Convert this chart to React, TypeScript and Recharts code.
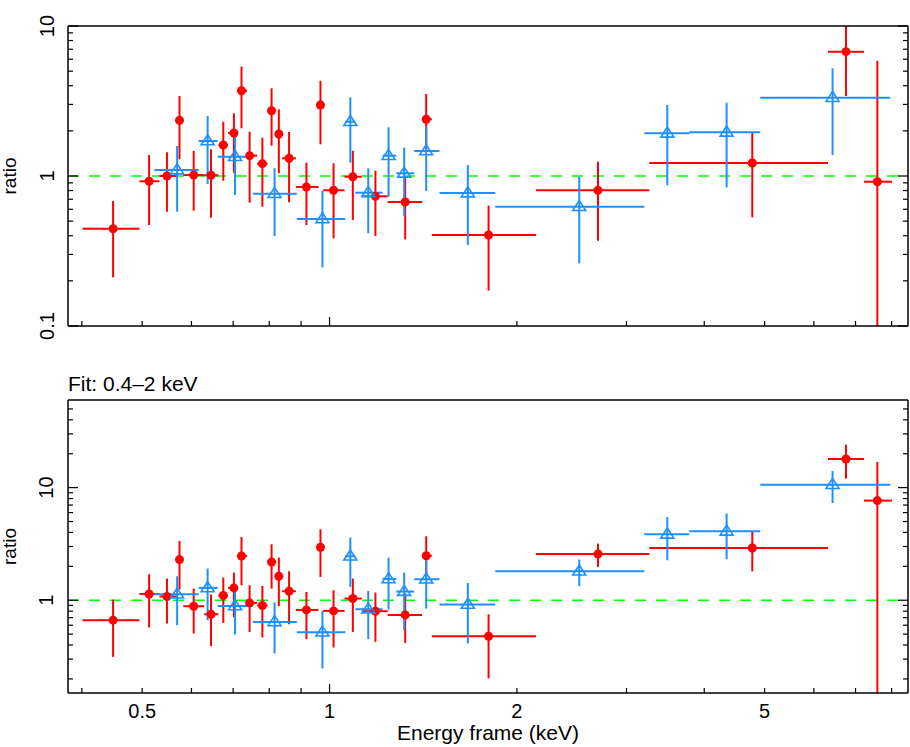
import { ScatterChart, Scatter, XAxis, YAxis, ErrorBar, ReferenceLine } from "recharts";

const FONT = "'Liberation Sans', Arial, Helvetica, sans-serif";
const RED = "#ff0000";
const BLUE = "#1e8fff";
const GREEN = "#00ff00";
const INK = "#000000";

// red data set: bin centre, bin edges (keV)
const RED_E = [0.449, 0.513, 0.548, 0.574, 0.605, 0.645, 0.675, 0.702, 0.722, 0.744, 0.78, 0.807, 0.829, 0.861, 0.918, 0.967, 1.015, 1.09, 1.185, 1.323, 1.43, 1.801, 2.7, 4.778, 6.757, 7.589];
const RED_E_LO = [0.401, 0.495, 0.533, 0.568, 0.582, 0.629, 0.663, 0.687, 0.71, 0.737, 0.765, 0.795, 0.821, 0.839, 0.883, 0.96, 0.976, 1.057, 1.127, 1.24, 1.408, 1.46, 2.146, 3.264, 6.323, 7.223];
const RED_E_HI = [0.495, 0.533, 0.568, 0.582, 0.629, 0.663, 0.687, 0.71, 0.737, 0.765, 0.795, 0.821, 0.839, 0.883, 0.96, 0.976, 1.057, 1.127, 1.24, 1.408, 1.46, 2.146, 3.264, 6.323, 7.223, 8.013];

// red ratio, upper panel
const RED_TOP = [0.445, 0.922, 1.0, 2.351, 1.015, 1.011, 1.609, 1.935, 3.704, 1.366, 1.208, 2.725, 1.905, 1.312, 0.845, 2.974, 0.803, 0.989, 0.732, 0.671, 2.388, 0.404, 0.803, 1.221, 6.741, 0.916];
const RED_TOP_LO = [0.211, 0.471, 0.578, 1.292, 0.587, 0.527, 0.93, 1.05, 2.08, 0.664, 0.624, 1.592, 1.042, 0.668, 0.471, 1.627, 0.384, 0.509, 0.398, 0.378, 1.45, 0.172, 0.37, 0.53, 3.414, 0.01];
const RED_TOP_HI = [0.681, 1.38, 1.439, 3.414, 1.468, 1.507, 2.301, 2.618, 5.354, 1.974, 1.8, 3.843, 2.784, 1.965, 1.227, 4.318, 1.215, 1.475, 1.085, 0.965, 3.522, 0.634, 1.245, 1.944, 12, 5.87];

// red ratio, lower panel (fit 0.4-2 keV)
const RED_BOT = [0.665, 1.137, 1.079, 2.297, 0.885, 0.751, 1.101, 1.286, 2.472, 0.946, 0.897, 2.187, 1.633, 1.202, 0.82, 2.953, 0.804, 1.035, 0.799, 0.741, 2.483, 0.479, 2.576, 2.911, 17.94, 7.668];
const RED_BOT_LO = [0.314, 0.573, 0.621, 1.244, 0.506, 0.391, 0.629, 0.707, 1.359, 0.523, 0.467, 1.27, 0.885, 0.612, 0.451, 1.609, 0.38, 0.523, 0.427, 0.418, 1.609, 0.202, 1.975, 1.808, 12.02, 0.01];
const RED_BOT_HI = [1.014, 1.701, 1.558, 3.358, 1.27, 1.124, 1.59, 1.761, 3.645, 1.359, 1.339, 3.14, 2.393, 1.808, 1.185, 4.266, 1.227, 1.558, 1.17, 1.147, 3.698, 0.751, 3.185, 4.037, 24.07, 16.87];

// blue data set
const BLUE_E = [0.569, 0.637, 0.705, 0.816, 0.974, 1.08, 1.154, 1.244, 1.318, 1.43, 1.668, 2.519, 3.489, 4.345, 6.43];
const BLUE_E_LO = [0.523, 0.616, 0.661, 0.753, 0.886, 1.06, 1.1, 1.217, 1.28, 1.368, 1.502, 1.846, 3.204, 3.785, 4.921];
const BLUE_E_HI = [0.616, 0.661, 0.753, 0.886, 1.06, 1.1, 1.217, 1.28, 1.368, 1.502, 1.846, 3.204, 3.785, 4.921, 7.962];

const BLUE_TOP = [1.096, 1.711, 1.345, 0.762, 0.517, 2.301, 0.774, 1.366, 1.042, 1.468, 0.77, 0.624, 1.926, 1.956, 3.327];
const BLUE_TOP_LO = [0.578, 0.885, 0.747, 0.398, 0.246, 1.227, 0.415, 0.728, 0.541, 0.794, 0.347, 0.262, 0.867, 0.841, 1.38];
const BLUE_TOP_HI = [1.585, 2.512, 1.926, 1.126, 0.794, 3.347, 1.126, 2.112, 1.544, 2.132, 1.184, 0.989, 2.974, 3.081, 5.224];

const BLUE_BOT = [1.13, 1.286, 0.89, 0.642, 0.52, 2.457, 0.832, 1.545, 1.194, 1.536, 0.916, 1.808, 3.852, 4.094, 10.63];
const BLUE_BOT_LO = [0.6, 0.665, 0.496, 0.337, 0.248, 1.312, 0.451, 0.827, 0.542, 0.844, 0.413, 1.331, 2.264, 2.311, 7.3];
const BLUE_BOT_HI = [1.633, 1.911, 1.312, 0.954, 0.804, 3.6, 1.209, 2.393, 1.761, 2.264, 1.424, 2.297, 5.484, 5.88, 14.04];

// axes
const X_DOMAIN = [0.38, 8.5];
const X_TICKS = [0.4, 0.5, 0.6, 0.7, 0.8, 0.9, 1, 2, 3, 4, 5, 6, 7, 8];
const X_LABELS = [0.5, 1, 2, 5];
const TOP_DOMAIN = [0.1, 10];
const TOP_TICKS = [0.1, 0.2, 0.3, 0.4, 0.5, 0.6, 0.7, 0.8, 0.9, 1, 2, 3, 4, 5, 6, 7, 8, 9, 10];
const TOP_LABELS = [0.1, 1, 10];
const BOT_DOMAIN = [0.15, 60];
const BOT_TICKS = [0.2, 0.3, 0.4, 0.5, 0.6, 0.7, 0.8, 0.9, 1, 2, 3, 4, 5, 6, 7, 8, 9, 10, 20, 30, 40, 50];
const BOT_LABELS = [1, 10];
const DECADES = [0.1, 1, 10];

// error bars that run off the panel are cut at the axis range
function rows(e: number[], lo: number[], hi: number[], y: number[], ylo: number[], yhi: number[], range: number[]) {
  return e.map((x, i) => {
    const bottom = Math.max(ylo[i], range[0]);
    const top = Math.min(yhi[i], range[1]);
    return {
      x,
      y: y[i],
      ex: [x - lo[i], hi[i] - x],
      ey: [y[i] - bottom, top - y[i]],
    };
  });
}

const redTop = rows(RED_E, RED_E_LO, RED_E_HI, RED_TOP, RED_TOP_LO, RED_TOP_HI, TOP_DOMAIN);
const blueTop = rows(BLUE_E, BLUE_E_LO, BLUE_E_HI, BLUE_TOP, BLUE_TOP_LO, BLUE_TOP_HI, TOP_DOMAIN);
const redBot = rows(RED_E, RED_E_LO, RED_E_HI, RED_BOT, RED_BOT_LO, RED_BOT_HI, BOT_DOMAIN);
const blueBot = rows(BLUE_E, BLUE_E_LO, BLUE_E_HI, BLUE_BOT, BLUE_BOT_LO, BLUE_BOT_HI, BOT_DOMAIN);

// inward ticks, drawn from the axis line into the plot box
const xTick = (side: "top" | "bottom", labels: number[]) => (p: any) => {
  const v = p.payload.value;
  const len = DECADES.includes(v) ? 9 : 5;
  const dir = side === "bottom" ? -1 : 1;
  return (
    <g>
      <line x1={p.x} x2={p.x} y1={p.y} y2={p.y + dir * len} stroke={INK} strokeWidth={1.2} />
      {labels.includes(v) && (
        <text x={p.x} y={p.y + 25} textAnchor="middle" fontSize={20} fontFamily={FONT} fill={INK}>
          {v}
        </text>
      )}
    </g>
  );
};

const yTick = (side: "left" | "right", labels: number[]) => (p: any) => {
  const v = p.payload.value;
  const len = DECADES.includes(v) ? 10 : 5;
  const dir = side === "left" ? 1 : -1;
  const tx = p.x - 14.5;
  return (
    <g>
      <line x1={p.x} x2={p.x + dir * len} y1={p.y} y2={p.y} stroke={INK} strokeWidth={1.2} />
      {labels.includes(v) && (
        <text
          x={tx}
          y={p.y}
          transform={`rotate(-90 ${tx} ${p.y})`}
          textAnchor="middle"
          fontSize={20}
          fontFamily={FONT}
          fill={INK}
        >
          {v}
        </text>
      )}
    </g>
  );
};

const ratioLabel = (p: any) => {
  const vb = p.viewBox;
  const cx = vb.x + 16;
  const cy = vb.y + vb.height / 2;
  return (
    <text x={cx} y={cy} transform={`rotate(-90 ${cx} ${cy})`} textAnchor="middle" fontSize={19} fontFamily={FONT} fill={INK}>
      ratio
    </text>
  );
};

const energyLabel = (p: any) => {
  const vb = p.viewBox;
  return (
    <text x={vb.x + vb.width / 2} y={vb.y + 47} textAnchor="middle" fontSize={21} fontFamily={FONT} fill={INK}>
      Energy frame (keV)
    </text>
  );
};

const fitLabel = (p: any) => {
  const vb = p.viewBox;
  return (
    <text x={vb.x} y={vb.y + vb.height - 9} textAnchor="start" fontSize={21} fontFamily={FONT} fill={INK}>
      Fit: 0.4–2 keV
    </text>
  );
};

const dot = (p: any) => <circle cx={p.cx} cy={p.cy} r={4.5} fill={RED} />;
const triangle = (p: any) => (
  <polygon
    points={`${p.cx},${p.cy - 6.3} ${p.cx - 6.5},${p.cy + 3.8} ${p.cx + 6.5},${p.cy + 3.8}`}
    fill="none"
    stroke={BLUE}
    strokeWidth={1.6}
  />
);

interface PanelProps {
  height: number;
  marginTop: number;
  bottomHeight: number;
  yDomain: number[];
  yTicks: number[];
  yLabels: number[];
  red: any[];
  blue: any[];
  showX: boolean;
}

function Panel({ height, marginTop, bottomHeight, yDomain, yTicks, yLabels, red, blue, showX }: PanelProps) {
  return (
    <ScatterChart width={910} height={height} margin={{ top: marginTop - 1, right: 1, bottom: 0, left: 0 }}>
      <XAxis
        xAxisId="b"
        dataKey="x"
        type="number"
        scale="log"
        domain={X_DOMAIN}
        allowDataOverflow
        ticks={X_TICKS}
        interval={0}
        tickSize={0}
        tickMargin={0}
        tickLine={false}
        tick={xTick("bottom", showX ? X_LABELS : [])}
        axisLine={{ stroke: INK, strokeWidth: 1.5 }}
        height={bottomHeight}
        label={showX ? energyLabel : undefined}
      />
      <XAxis
        xAxisId="t"
        orientation="top"
        type="number"
        scale="log"
        domain={X_DOMAIN}
        allowDataOverflow
        ticks={X_TICKS}
        interval={0}
        tickSize={0}
        tickMargin={0}
        tickLine={false}
        tick={xTick("top", [])}
        axisLine={{ stroke: INK, strokeWidth: 1.5 }}
        height={1}
        label={showX ? fitLabel : undefined}
      />
      <YAxis
        yAxisId="l"
        dataKey="y"
        type="number"
        scale="log"
        domain={yDomain}
        allowDataOverflow
        ticks={yTicks}
        interval={0}
        tickSize={0}
        tickMargin={0}
        tickLine={false}
        tick={yTick("left", yLabels)}
        axisLine={{ stroke: INK, strokeWidth: 1.5 }}
        width={68}
        label={ratioLabel}
      />
      <YAxis
        yAxisId="r"
        orientation="right"
        type="number"
        scale="log"
        domain={yDomain}
        allowDataOverflow
        ticks={yTicks}
        interval={0}
        tickSize={0}
        tickMargin={0}
        tickLine={false}
        tick={yTick("right", [])}
        axisLine={{ stroke: INK, strokeWidth: 1.5 }}
        width={1}
      />
      <ReferenceLine xAxisId="b" yAxisId="l" y={1} stroke={GREEN} strokeWidth={1.3} strokeDasharray="11 10" />
      <Scatter xAxisId="b" yAxisId="l" data={red} shape={dot} isAnimationActive={false}>
        <ErrorBar dataKey="ex" direction="x" width={0} stroke={RED} strokeWidth={2} isAnimationActive={false} />
        <ErrorBar dataKey="ey" direction="y" width={0} stroke={RED} strokeWidth={2} isAnimationActive={false} />
      </Scatter>
      <Scatter xAxisId="b" yAxisId="l" data={blue} shape={triangle} isAnimationActive={false}>
        <ErrorBar dataKey="ex" direction="x" width={0} stroke={BLUE} strokeWidth={2} isAnimationActive={false} />
        <ErrorBar dataKey="ey" direction="y" width={0} stroke={BLUE} strokeWidth={2} isAnimationActive={false} />
      </Scatter>
    </ScatterChart>
  );
}

export default function App() {
  return (
    <div style={{ position: "absolute", left: 0, top: 0, width: 910, height: 747, background: "#fff" }}>
      <div style={{ position: "absolute", left: 0, top: 0 }}>
        <Panel
          height={345}
          marginTop={26}
          bottomHeight={19}
          yDomain={TOP_DOMAIN}
          yTicks={TOP_TICKS}
          yLabels={TOP_LABELS}
          red={redTop}
          blue={blueTop}
          showX={false}
        />
      </div>
      <div style={{ position: "absolute", left: 0, top: 345 }}>
        <Panel
          height={402}
          marginTop={55}
          bottomHeight={54}
          yDomain={BOT_DOMAIN}
          yTicks={BOT_TICKS}
          yLabels={BOT_LABELS}
          red={redBot}
          blue={blueBot}
          showX={true}
        />
      </div>
    </div>
  );
}
